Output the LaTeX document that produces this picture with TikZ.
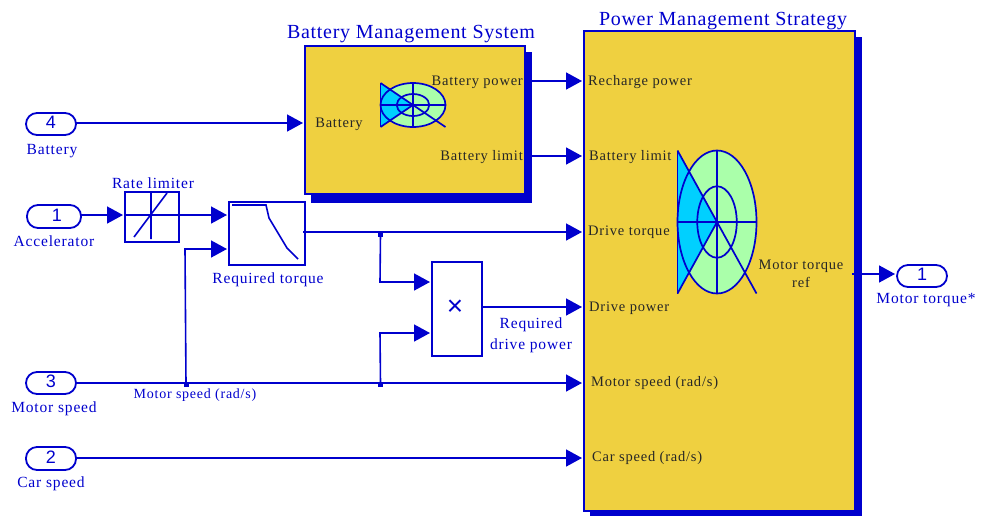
\documentclass[tikz,border=0pt]{standalone}
\usepackage{fontspec}
\setmainfont{Liberation Serif}
\newfontfamily\pillfont{Liberation Sans}
\newfontfamily\labfont[LetterSpace=5.4]{Liberation Serif}
\newfontfamily\titlefont[LetterSpace=3.6]{Liberation Serif}
\usetikzlibrary{arrows.meta}
\definecolor{sblue}{RGB}{0,0,205}
\definecolor{syellow}{RGB}{239,208,64}
\definecolor{scyan}{RGB}{0,208,255}
\definecolor{sgreen}{RGB}{170,255,170}
\newcommand{\fishicon}[4]{% cx cy rx ry
  \fill[scyan] (#1-#3,#2-#4) -- (#1,#2) -- (#1-#3,#2+#4) -- cycle;
  \begin{scope}
  \fill[sgreen] (#1,#2) ellipse [x radius=#3,y radius=#4];
  \clip (#1-#3,#2-#4) -- (#1,#2) -- (#1-#3,#2+#4) -- cycle;
  \fill[scyan] (#1-#3,#2-#4) rectangle (#1,#2+#4);
  \end{scope}
  \draw[icon] (#1,#2) ellipse [x radius=#3,y radius=#4];
  \draw[icon] (#1,#2) ellipse [x radius=#3/2,y radius=#4/2];
  \draw[icon] (#1-#3,#2) -- (#1+#3,#2);
  \draw[icon] (#1,#2-#4) -- (#1,#2+#4);
  \draw[icon] (#1-#3,#2-#4) -- (#1+#3,#2+#4);
  \draw[icon] (#1-#3,#2+#4) -- (#1,#2);
  \draw[icon] (#1-#3,#2-#4) -- (#1-#3,#2+#4);
}
\tikzset{
  icon/.style={draw=sblue,line width=1.7pt},
  wire/.style={draw=sblue,line width=1.6pt},
  flow/.style={wire,-{Triangle[length=16pt,width=17pt]}},
  block/.style={draw=sblue,line width=1.6pt,fill=white,rectangle,inner sep=0,outer sep=0,anchor=north west},
  subsys/.style={draw=sblue,line width=2pt,fill=syellow,rectangle,inner sep=0,outer sep=0,anchor=north west},
  shadowbox/.style={fill=sblue},
  pill/.style={draw=sblue,line width=1.8pt,fill=white,rounded corners=11pt,inner sep=0,outer sep=0,text=sblue,font=\pillfont\fontsize{18}{18}\selectfont},
  lab/.style={text=sblue,inner sep=0,font=\labfont\fontsize{15.5}{19}\selectfont,align=center},
  title/.style={text=sblue,inner sep=0,font=\titlefont\fontsize{20}{22}\selectfont},
  port/.style={text=black!85,inner sep=0,font=\labfont\fontsize{14.5}{17}\selectfont,align=center},
  junction/.style={fill=sblue,inner sep=0,minimum size=5pt,rectangle},
}
\begin{document}
\begin{tikzpicture}[x=1pt,y=-1pt]
\useasboundingbox (0,0) rectangle (981,515);
% shadows
\fill[shadowbox] (311,52) rectangle (532,203);
\fill[shadowbox] (590,37) rectangle (862,516);
% subsystems
\node[subsys,minimum width=220pt,minimum height=148pt] (bms) at (305,46) {};
\node[subsys,minimum width=271pt,minimum height=480pt] (pms) at (584,31) {};
\node[title] (tbms) at (411,34) {Battery Management System};
\node[title] (tpms) at (723,21) {Power Management Strategy};
% icons
\fishicon{413}{105}{32.5}{22}
\fishicon{717}{222}{39.5}{71.5}
% blocks
\node[block,minimum width=54pt,minimum height=50pt] (rate) at (125,192) {};
\node[block,minimum width=76pt,minimum height=63pt] (torque) at (229,202) {};
\node[block,minimum width=50pt,minimum height=94pt,text=sblue] (prod) at (432,262) {};
\node[text=sblue,inner sep=0,font=\fontsize{28}{28}\selectfont] (times) at (455,307.5) {\pillfont×};
% block glyphs
\draw[wire] (126,215) -- (178,215) (151,193) -- (151,239) (134,237) -- (167,193);
\draw[wire] (232,205) -- (266,205) -- (269,218) -- (287,248) -- (298,259);
% ports
\node[pill,minimum width=50pt,minimum height=22pt] (in4) at (51,124) {\raisebox{3pt}{4}};
\node[pill,minimum width=54pt,minimum height=23pt] (in1) at (54,216.5) {\raisebox{3pt}{\hspace*{6pt}1}};
\node[pill,minimum width=50pt,minimum height=22pt] (in3) at (51,383) {\raisebox{3pt}{3}};
\node[pill,minimum width=50pt,minimum height=23pt] (in2) at (51,458.5) {\raisebox{3pt}{2}};
\node[pill,minimum width=50pt,minimum height=22pt] (out1) at (922,276) {\raisebox{3pt}{1}};
% port labels
\node[lab] (l4) at (52,151) {Battery};
\node[lab] (l1) at (54,241) {Accelerator};
\node[lab] (l3) at (54,409) {Motor speed};
\node[lab] (l2) at (51,484) {Car speed};
\node[lab] (lo) at (926,300) {Motor torque*};
\node[lab] (lr) at (153,183) {Rate limiter};
\node[lab] (lt) at (268,280) {Required torque};
\node[lab] (lp) at (531,335) {Required\\[2pt]drive power};
\node[lab,font=\labfont\fontsize{14}{16}\selectfont] (lm) at (195,395) {Motor speed (rad/s)};
% black labels
\node[port] (bb) at (339,124) {Battery};
\node[port,anchor=east] (bp) at (523,82) {Battery power};
\node[port,anchor=east] (bl) at (523,157) {Battery limit};
\node[port,anchor=west] (p1) at (588,82) {Recharge power};
\node[port,anchor=west] (p2) at (589,157) {Battery limit};
\node[port,anchor=west] (p3) at (588,232) {Drive torque};
\node[port,anchor=west] (p4) at (589,308) {Drive power};
\node[port,anchor=west] (p5) at (591,383) {Motor speed (rad/s)};
\node[port,anchor=west] (p6) at (592,458) {Car speed (rad/s)};
\node[port] (pm) at (801,274) {Motor torque\\[1pt]ref};
% connection points
\coordinate (bmsIn) at (303,123);
\coordinate (bmsA) at (525,81);
\coordinate (bmsB) at (525,156);
\coordinate (pmsA) at (582,81);
\coordinate (pmsB) at (582,156);
\coordinate (pmsC) at (582,232);
\coordinate (pmsD) at (582,307);
\coordinate (pmsE) at (582,383);
\coordinate (pmsF) at (582,458);
\coordinate (pmsOut) at (852,274);
\coordinate (outIn) at (895,274);
\coordinate (rateIn) at (123,215);
\coordinate (rateOut) at (179,215);
\coordinate (torqA) at (227,215);
\coordinate (torqB) at (227,249);
\coordinate (torqOut) at (303,232);
\coordinate (prodA) at (430,282);
\coordinate (prodB) at (430,333);
\coordinate (prodOut) at (481,307);
\node[junction] (j1) at (380.5,234) {};
\node[junction] (j2) at (380.5,384) {};
\node[junction] (j3) at (186,384) {};
% connectors
\draw[flow] (in4.east |- bmsIn) -- (bmsIn);
\draw[flow] (in1.east |- rateIn) -- (rateIn);
\draw[flow] (rateOut) -- (torqA);
\draw[flow] (bmsA) -- (pmsA);
\draw[flow] (bmsB) -- (pmsB);
\draw[flow] (torqOut) -- (pmsC);
\draw[flow] (prodOut) -- (pmsD);
\draw[flow] (in3.east |- pmsE) -- (pmsE);
\draw[flow] (in2.east |- pmsF) -- (pmsF);
\draw[flow] (pmsOut) -- (outIn);
\draw[flow] (j3.center) -- (185,249) -- (torqB);
\draw[flow] (j1.center) -- (380,282) -- (prodA);
\draw[flow] (j2.center) -- (380,333) -- (prodB);
\end{tikzpicture}
\end{document}
